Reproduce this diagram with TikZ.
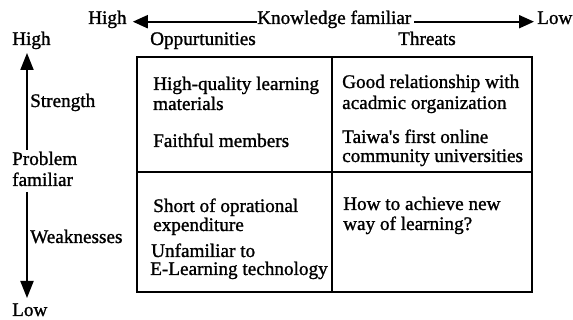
\documentclass[tikz,border=0pt]{standalone}
\usepackage{fontspec}
\setmainfont{Liberation Serif}[RawFeature={embolden=1.2}]
\usetikzlibrary{arrows.meta}
\tikzset{
  txt/.style={font=\fontsize{19.2}{20}\selectfont, inner sep=0pt, anchor=base west},
  harr/.style={line width=2pt, -{Triangle[length=15pt,width=13pt]}},
  varr/.style={line width=2pt, -{Triangle[length=17pt,width=13pt]}},
  gridline/.style={line width=2pt}
}
\begin{document}
\begin{tikzpicture}[x=1pt,y=-1pt]
\useasboundingbox (0,0) rectangle (573,320);
% top axis
\node[txt] (hiT) at (88,24) {High};
\node[txt] (kf) at (257,24) {Knowledge familiar};
\node[txt] (loT) at (537,24) {Low};
\draw[harr] (kf.mid west) -- ([xshift=6pt]hiT.mid east);
\draw[harr] ([xshift=3pt]kf.mid east) -- ([xshift=-3pt]loT.mid west);
% left axis
\node[txt] (hiL) at (12,45) {High};
\node[txt] (prob) at (12,165) {Problem};
\node[txt] (fam) at (12,186) {familiar};
\node[txt] (loL) at (12,316) {Low};
\node[txt] (str) at (30,107) {Strength};
\node[txt] (weak) at (30,243) {Weaknesses};
\coordinate (vupS) at (27,150);
\coordinate (vup) at (27,53);
\coordinate (vdnS) at (27,192);
\coordinate (vdn) at (27,298);
\draw[varr] (vupS) -- (vup);
\draw[varr] (vdnS) -- (vdn);
% column headers
\node[txt] (opp) at (150,45) {Oppurtunities};
\node[txt] (thr) at (398,45) {Threats};
% grid
\draw[gridline] (137,57) rectangle (532,292);
\draw[gridline] (332,57) -- (332,292);
\draw[gridline] (137,172) -- (532,172);
% cell texts
\node[txt] (a1) at (153,90) {High-quality learning};
\node[txt] (a2) at (153,110) {materials};
\node[txt] (a3) at (153,147) {Faithful members};
\node[txt] (b1) at (342,88) {Good relationship with};
\node[txt] (b2) at (342,109) {acadmic organization};
\node[txt] (b3) at (342,143) {Taiwa\textquotesingle s first online};
\node[txt] (b4) at (342,162) {community universities};
\node[txt] (c1) at (153,212) {Short of oprational};
\node[txt] (c2) at (153,231) {expenditure};
\node[txt] (c3) at (151,257) {Unfamiliar to};
\node[txt] (c4) at (150,275) {E-Learning technology};
\node[txt] (d1) at (343,210) {How to achieve new};
\node[txt] (d2) at (343,230) {way of learning?};
\end{tikzpicture}
\end{document}
